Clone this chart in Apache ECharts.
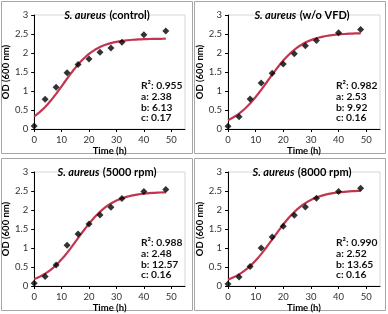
<!DOCTYPE html>
<html><head><meta charset="utf-8">
<script src="https://cdn.jsdelivr.net/npm/echarts@6/dist/echarts.min.js"></script>
<style>html,body{margin:0;padding:0;background:#fff}#c{width:388px;height:314px}</style>
</head><body><div id="c"></div>
<script>
var timeH = [0, 4, 8, 12, 16, 20, 24, 28, 32, 40, 48];
var panelNames = ['(control)', '(w/o VFD)', '(5000 rpm)', '(8000 rpm)'];
var odControl = [0.08, 0.78, 1.10, 1.48, 1.70, 1.84, 2.02, 2.13, 2.28, 2.48, 2.58];
var odNoVFD   = [0.07, 0.32, 0.79, 1.21, 1.47, 1.71, 1.98, 2.19, 2.33, 2.53, 2.62];
var od5000    = [0.07, 0.25, 0.55, 1.07, 1.37, 1.63, 1.87, 2.07, 2.30, 2.49, 2.54];
var od8000    = [0.05, 0.24, 0.51, 1.00, 1.29, 1.57, 1.86, 2.08, 2.31, 2.49, 2.57];
// logistic fit parameters printed in each panel: OD = a / (1 + b*exp(-c*t))
var fitR2 = ['0.955', '0.982', '0.988', '0.990'];
var fitA = [2.38, 2.53, 2.48, 2.52];
var fitB = [6.13, 9.92, 12.57, 13.65];
var fitC = [0.17, 0.16, 0.16, 0.16];
var xTicks = [0, 10, 20, 30, 40, 50];
var yTicks = [0, 0.5, 1, 1.5, 2, 2.5, 3];

var odSets = [odControl, odNoVFD, od5000, od8000];
var FONT = 'Lato, "Liberation Sans", sans-serif';
var panels = [
  {px: 1, py: 1, gl: 33, gt: 15},
  {px: 194, py: 1, gl: 228, gt: 15},
  {px: 1, py: 158, gl: 33, gt: 172},
  {px: 194, py: 158, gl: 228, gt: 172}
];
var grids = [], xAxes = [], yAxes = [], series = [], graphics = [];
panels.forEach(function (p, i) {
  graphics.push({type: 'rect', z: -10, shape: {x: p.px + 0.5, y: p.py + 0.5, width: 191, height: 152},
    style: {fill: '#fff', stroke: '#a6a6a6', lineWidth: 1}});
  grids.push({left: p.gl, top: p.gt, width: 152, height: 114, show: true, borderColor: '#cfd8e0', borderWidth: 1, backgroundColor: 'transparent'});
  xAxes.push({type: 'value', gridIndex: i, min: 0, max: 55, interval: 10,
    axisLine: {show: true, onZero: false, lineStyle: {color: '#000', width: 1}},
    axisTick: {show: true, length: 3, lineStyle: {color: '#000'}},
    axisLabel: {showMaxLabel: false, color: '#333', fontSize: 9.5, fontFamily: FONT, margin: 6},
    splitLine: {show: false},
    name: 'Time (h)', nameLocation: 'middle', nameGap: 16,
    nameTextStyle: {color: '#000', fontWeight: 'bold', fontSize: 9.5, fontFamily: FONT}});
  yAxes.push({type: 'value', gridIndex: i, min: 0, max: 3, interval: 0.5,
    axisLine: {show: true, lineStyle: {color: '#000', width: 1}},
    axisTick: {show: true, length: 3, lineStyle: {color: '#000'}},
    axisLabel: {color: '#333', fontSize: 9.5, fontFamily: FONT, margin: 6},
    splitLine: {show: false},
    name: 'OD (600 nm)', nameLocation: 'middle', nameGap: 22,
    nameTextStyle: {color: '#000', fontWeight: 'bold', fontSize: 9.5, fontFamily: FONT}});
  var curve = [];
  for (var t = 0; t <= 48; t += 0.5) {
    curve.push([t, fitA[i] / (1 + fitB[i] * Math.exp(-fitC[i] * t))]);
  }
  series.push({type: 'line', xAxisIndex: i, yAxisIndex: i, data: curve, showSymbol: false, smooth: false,
    lineStyle: {color: '#c1354f', width: 2.2}, z: 2, silent: true});
  series.push({type: 'scatter', xAxisIndex: i, yAxisIndex: i, symbol: 'diamond', symbolSize: 7,
    itemStyle: {color: '#000'}, z: 3,
    data: timeH.map(function (x, k) { return [x, odSets[i][k]]; })});
  graphics.push({type: 'text', z: 10, x: p.gl + 74, y: p.gt, style: {
    text: '{i|S. aureus} {n|' + panelNames[i] + '}', align: 'center', verticalAlign: 'middle',
    rich: {i: {fontStyle: 'italic', fontWeight: 'bold', fontSize: 11, fontFamily: FONT, fill: '#000'},
           n: {fontWeight: 'bold', fontSize: 11, fontFamily: FONT, fill: '#000'}}}});
  graphics.push({type: 'text', z: 10, x: p.gl + 108, y: p.gt + 65.5, style: {
    text: 'R²: ' + fitR2[i] + '\na: ' + fitA[i].toFixed(2) + '\nb: ' + fitB[i].toFixed(2) + '\nc: ' + fitC[i].toFixed(2),
    lineHeight: 10.7, fontSize: 10.3, fontWeight: 'bold', fontFamily: FONT, fill: '#111', align: 'left', verticalAlign: 'top'}});
});
var chart = echarts.init(document.getElementById('c'), null, {renderer: 'canvas'});
chart.setOption({animation: false, backgroundColor: '#fff', grid: grids, xAxis: xAxes, yAxis: yAxes, series: series, graphic: graphics});
</script></body></html>
